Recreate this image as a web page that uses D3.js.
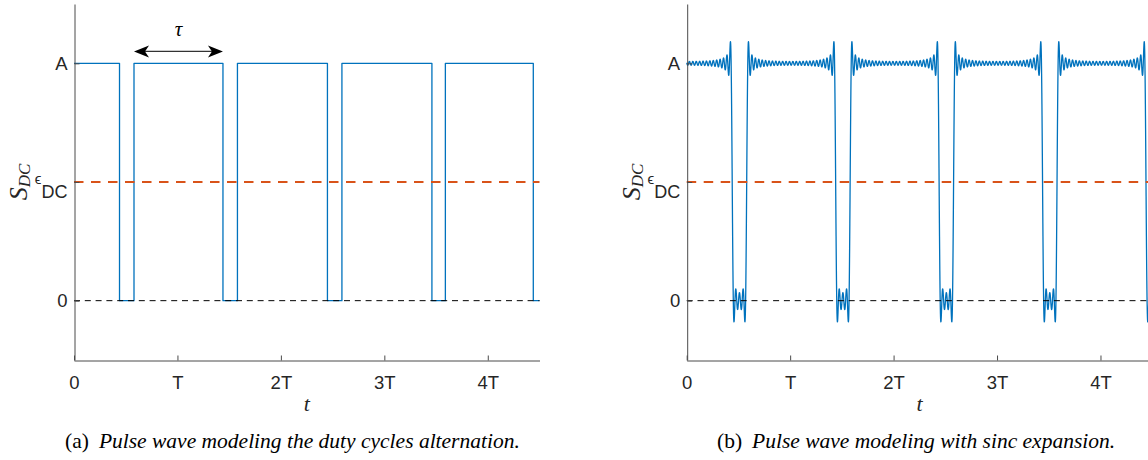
<!DOCTYPE html>
<html>
<head>
<meta charset="utf-8">
<script src="https://cdn.jsdelivr.net/npm/d3@7"></script>
<style>
  body { margin: 0; background: #fff; }
  svg { display: block; }
</style>
</head>
<body>
<svg id="chart" width="1148" height="460"></svg>
<script>
// pulse edges (in units of T)
var lowStart = [0.44, 1.44, 2.45, 3.46, 4.44];
var lowEnd   = [0.58, 1.58, 2.59, 3.59, 4.58];
var amplitude = 1;       // A
var epsDC = 0.5;         // epsilon_DC threshold
var nHarmonics = 30;     // terms kept in the sinc expansion of panel (b)

var xTicks = [0, 1, 2, 3, 4];
var xTickLabels = ["0", "T", "2T", "3T", "4T"];
var yTicks = [0, epsDC, amplitude];
var captions = ["Pulse wave modeling the duty cycles alternation.", "Pulse wave modeling with sinc expansion."];
var captionTags = ["(a)", "(b)"];

var sans = "'Liberation Sans', Arial, Helvetica, sans-serif";
var serif = "'Liberation Serif', 'Times New Roman', serif";
var blue = "#0072BD", orange = "#D95319", axisCol = "#4a4a4a";

var svg = d3.select("#chart");
svg.append("rect").attr("width", 1148).attr("height", 460).attr("fill", "#fff");

var y = d3.scaleLinear().domain([-0.25, 1.25]).range([360, 4]);

// square pulse points from the edge arrays
function pulsePoints(tmax) {
  var pts = [[0, amplitude]];
  lowStart.forEach(function(s, i) {
    if (s > tmax) return;
    pts.push([s, amplitude], [s, 0]);
    var e = Math.min(lowEnd[i], tmax);
    pts.push([e, 0]);
    if (lowEnd[i] <= tmax) pts.push([e, amplitude]);
  });
  var last = pts[pts.length - 1];
  if (last[0] < tmax) pts.push([tmax, last[1]]);
  return pts;
}

// truncated fourier (sinc) series of the same pulse train
function sincPoints(tmax) {
  var hiStart = lowEnd[0], hiEnd = lowStart[1];
  var d = hiEnd - hiStart, c = (hiStart + hiEnd) / 2;
  var pts = [];
  for (var t = 0; t <= tmax + 1e-9; t += 0.001) {
    var v = d;
    for (var n = 1; n <= nHarmonics; n++) {
      v += 2 / (n * Math.PI) * Math.sin(n * Math.PI * d) * Math.cos(2 * Math.PI * n * (t - c));
    }
    pts.push([t, amplitude * v]);
  }
  return pts;
}

function drawPanel(x0, showArrow, sinc, idx, capX) {
  var x = d3.scaleLinear().domain([0, 4.5]).range([x0, x0 + 465.5]);
  var g = svg.append("g");

  var line = d3.line().x(function(d) { return x(d[0]); }).y(function(d) { return y(d[1]); });
  var data = sinc ? sincPoints(4.6) : pulsePoints(4.5);

  g.append("path")
    .attr("d", line(data))
    .attr("fill", "none")
    .attr("stroke", blue)
    .attr("stroke-width", 1.3)
    .attr("stroke-linejoin", "round");

  // threshold and zero reference
  g.append("line")
    .attr("x1", x(0)).attr("x2", x(4.5))
    .attr("y1", y(epsDC)).attr("y2", y(epsDC))
    .attr("stroke", orange).attr("stroke-width", 2)
    .attr("stroke-dasharray", "9.5,7.5");
  g.append("line")
    .attr("x1", x(0)).attr("x2", x(4.5))
    .attr("y1", y(0)).attr("y2", y(0))
    .attr("stroke", "#000").attr("stroke-width", 1)
    .attr("stroke-dasharray", "6,4.8");

  var xAxis = g.append("g")
    .attr("transform", "translate(0," + 360.5 + ")")
    .call(d3.axisBottom(x).tickValues(xTicks)
      .tickFormat(function(d, i) { return xTickLabels[i]; })
      .tickSizeInner(-5).tickSizeOuter(0).tickPadding(15));

  var yAxis = g.append("g")
    .attr("transform", "translate(" + (x0 + 0.5) + ",0)")
    .call(d3.axisLeft(y).tickValues(yTicks)
      .tickFormat(function(d) { return d === amplitude ? "A" : d === 0 ? "0" : ""; })
      .tickSizeInner(-5).tickSizeOuter(0).tickPadding(7));

  [xAxis, yAxis].forEach(function(a) {
    a.select(".domain").attr("stroke", axisCol);
    a.selectAll(".tick line").attr("stroke", axisCol);
    a.selectAll("text").attr("fill", "#262626").style("font-family", sans).style("font-size", "18.5px");
  });

  // epsilon_DC tick label
  var eps = yAxis.selectAll(".tick").filter(function(d) { return d === epsDC; }).select("text")
    .attr("dy", null);
  eps.append("tspan").attr("dy", 1).style("font-size", "15px").text("\u03F5");
  eps.append("tspan").attr("dy", 14).style("font-size", "18px").text("DC");

  // axis labels
  var yl = g.append("text")
    .attr("transform", "translate(" + (x0 - 47) + ",182) rotate(-90)")
    .attr("text-anchor", "middle")
    .style("font-family", serif).style("font-style", "italic").attr("fill", "#262626");
  yl.append("tspan").style("font-size", "26px").text("S");
  yl.append("tspan").attr("dy", 3).style("font-size", "17px").text("DC");

  g.append("text")
    .attr("x", x(2.25)).attr("y", 411)
    .attr("text-anchor", "middle")
    .style("font-family", serif).style("font-style", "italic").style("font-size", "22px")
    .attr("fill", "#262626")
    .text("t");

  if (showArrow) {
    var ax1 = x(lowEnd[0]), ax2 = x(lowStart[1]), ay = y(1.05);
    g.append("line")
      .attr("x1", ax1 + 6).attr("x2", ax2 - 6).attr("y1", ay).attr("y2", ay)
      .attr("stroke", "#333").attr("stroke-width", 1.2);
    var head = function(tip, dir) {
      return "M" + tip + "," + ay +
        "L" + (tip + dir * 15) + "," + (ay - 6) +
        "L" + (tip + dir * 11) + "," + ay +
        "L" + (tip + dir * 15) + "," + (ay + 6) + "Z";
    };
    g.append("path").attr("d", head(ax1, 1)).attr("fill", "#000");
    g.append("path").attr("d", head(ax2, -1)).attr("fill", "#000");
    g.append("text")
      .attr("x", (ax1 + ax2) / 2).attr("y", 36)
      .attr("text-anchor", "middle")
      .style("font-family", serif).style("font-style", "italic").style("font-size", "21px")
      .text("\u03C4");
  }

  // caption
  var cap = svg.append("text")
    .attr("x", capX).attr("y", 448)
    .style("font-family", serif).style("font-size", "21.5px").attr("fill", "#000");
  cap.append("tspan").text(captionTags[idx]);
  cap.append("tspan").attr("dx", 10).style("font-style", "italic").text(captions[idx]);
}

drawPanel(74, true, false, 0, 65);
drawPanel(686.7, false, true, 1, 717);
</script>
</body>
</html>
